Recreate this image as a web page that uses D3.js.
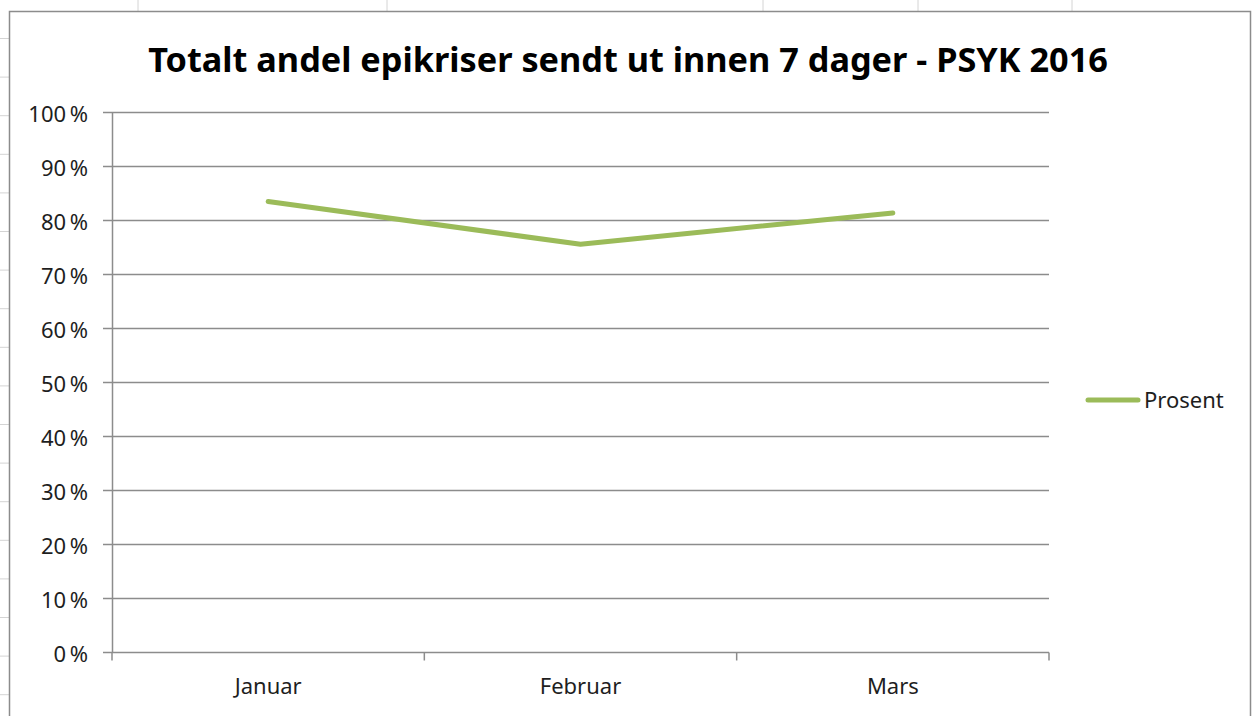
<!DOCTYPE html>
<html><head><meta charset="utf-8">
<script src="https://cdn.jsdelivr.net/npm/d3@7"></script>
<style>html,body{margin:0;padding:0;background:#fff;overflow:hidden}</style>
</head><body>
<svg id="c" width="1252" height="716"></svg>
<script>
const categories = ["Januar", "Februar", "Mars"];
const values = [83.5, 75.6, 81.4];
const seriesName = "Prosent";
const yTicks = [0, 10, 20, 30, 40, 50, 60, 70, 80, 90, 100];
const titleText = "Totalt andel epikriser sendt ut innen 7 dager - PSYK 2016";
const sheetCols = [138, 387, 763, 918, 1072];

const svg = d3.select("#c");
const font = "'Noto Sans', 'Open Sans', sans-serif";
const labelSize = 22;

// spreadsheet background grid
const bg = svg.append("g");
sheetCols.forEach(x => bg.append("line").attr("x1", x).attr("x2", x).attr("y1", 0).attr("y2", 12)
  .attr("stroke", "#d4d4d4").attr("stroke-width", 1));
for (let y = 38.5; y < 716; y += 38.6) {
  bg.append("line").attr("x1", 0).attr("x2", 9).attr("y1", y).attr("y2", y)
    .attr("stroke", "#d4d4d4").attr("stroke-width", 1);
}
// chart frame
svg.append("rect").attr("x", 9.5).attr("y", 11.5).attr("width", 1241).attr("height", 720)
  .attr("fill", "#fff").attr("stroke", "#8c8c8c").attr("stroke-width", 1.5);

const m = {left: 112, right: 1049, top: 112.5, bottom: 652.5};
const x = d3.scaleBand().domain(categories).range([m.left, m.right]);
const y = d3.scaleLinear().domain([0, 100]).range([m.bottom, m.top]);

// gridlines
svg.append("g").selectAll("line").data(yTicks).join("line")
  .attr("x1", m.left - 9).attr("x2", m.right)
  .attr("y1", d => y(d)).attr("y2", d => y(d))
  .attr("stroke", "#8c8c8c").attr("stroke-width", 1.5);

// y axis
const yAxis = svg.append("g").attr("transform", `translate(${m.left},0)`)
  .call(d3.axisLeft(y).tickValues(yTicks).tickSize(0).tickPadding(24).tickFormat(d => d + "\u2009%"));
yAxis.select(".domain").attr("stroke", "#8c8c8c").attr("stroke-width", 1.5);
yAxis.selectAll("text").attr("font-family", font).attr("font-size", labelSize).attr("fill", "#1e1e1e")
  .attr("dy", "0.42em");

// x axis
const xAxis = svg.append("g").attr("transform", `translate(0,${m.bottom})`)
  .call(d3.axisBottom(x).tickSize(0).tickPadding(0));
xAxis.select(".domain").remove();
xAxis.selectAll("text").attr("font-family", font).attr("font-size", labelSize).attr("fill", "#1e1e1e")
  .attr("y", 41).attr("dy", 0);
const bounds = [m.left].concat(categories.map(c => x(c) + x.bandwidth()));
svg.append("g").selectAll("line").data(bounds).join("line")
  .attr("x1", d => d).attr("x2", d => d).attr("y1", m.bottom).attr("y2", m.bottom + 8)
  .attr("stroke", "#8c8c8c").attr("stroke-width", 1.5);

// line
const line = d3.line().x((d, i) => x(categories[i]) + x.bandwidth() / 2).y(d => y(d));
svg.append("path").datum(values).attr("d", line).attr("fill", "none")
  .attr("stroke", "#9bbb59").attr("stroke-width", 5).attr("stroke-linecap", "round")
  .attr("stroke-linejoin", "round");

// title
const t = svg.append("text").attr("x", 628).attr("y", 72).attr("text-anchor", "middle")
  .attr("font-family", font).attr("font-weight", "bold").attr("font-size", 33).attr("fill", "#000")
  .text(titleText);
const tw = t.node().getComputedTextLength();
t.attr("font-size", 33 * 960 / tw);

// legend
const lg = svg.append("g");
lg.append("line").attr("x1", 1088).attr("x2", 1138).attr("y1", 400).attr("y2", 400)
  .attr("stroke", "#9bbb59").attr("stroke-width", 5).attr("stroke-linecap", "round");
lg.append("text").attr("x", 1144).attr("y", 400).attr("dy", "0.35em")
  .attr("font-family", font).attr("font-size", labelSize).attr("fill", "#1e1e1e").text(seriesName);
</script>
</body></html>
